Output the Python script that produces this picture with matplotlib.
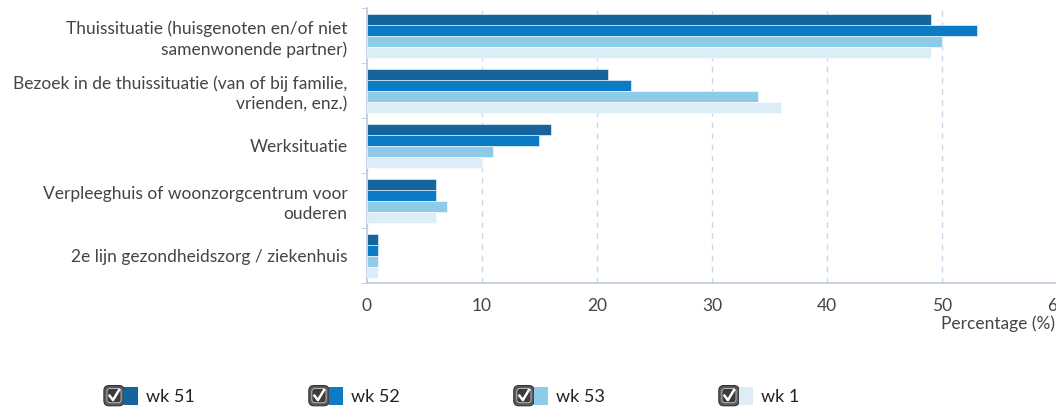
import numpy as np
import matplotlib
matplotlib.use('Agg')
import matplotlib.pyplot as plt
from matplotlib.patches import Rectangle, FancyBboxPatch
from matplotlib.lines import Line2D
from matplotlib.legend_handler import HandlerBase

plt.rcParams['font.family'] = ['Lato', 'DejaVu Sans']

# Gegevens
categories = [
    'Thuissituatie (huisgenoten en/of niet\nsamenwonende partner)',
    'Bezoek in de thuissituatie (van of bij familie,\nvrienden, enz.)',
    'Werksituatie',
    'Verpleeghuis of woonzorgcentrum voor\nouderen',
    '2e lijn gezondheidszorg / ziekenhuis',
]
weeks = ['wk 51', 'wk 52', 'wk 53', 'wk 1']
wk51 = [49, 21, 16, 6, 1]
wk52 = [53, 23, 15, 6, 1]
wk53 = [50, 34, 11, 7, 1]
wk1 = [49, 36, 10, 6, 1]
series = [wk51, wk52, wk53, wk1]
colors = ['#15649b', '#0b7bc6', '#8ecbe8', '#dcedf8']

text_color = '#444444'
axis_color = '#bccbdd'


# Legenda-item met vinkje
class CheckHandler(HandlerBase):
    def create_artists(self, legend, orig_handle, xdescent, ydescent,
                       width, height, fontsize, trans):
        s = height * 1.6
        y0 = -ydescent + height / 2 - s / 2
        x0 = -xdescent
        box = FancyBboxPatch((x0, y0), s, s,
                             boxstyle='round,pad=0,rounding_size=%f' % (s * 0.25),
                             facecolor='#5a5a5a', edgecolor='#333333', lw=0.8,
                             transform=trans)
        inner = FancyBboxPatch((x0 + s * 0.15, y0 + s * 0.15), s * 0.7, s * 0.7,
                               boxstyle='round,pad=0,rounding_size=%f' % (s * 0.15),
                               facecolor='#3c3c3c', edgecolor='#cccccc', lw=0.6,
                               transform=trans)
        check = Line2D([x0 + s * 0.28, x0 + s * 0.45, x0 + s * 0.75],
                       [y0 + s * 0.5, y0 + s * 0.28, y0 + s * 0.78],
                       color='white', lw=1.8, transform=trans)
        sw = Rectangle((x0 + s, y0 + s * 0.05), s * 0.7, s * 0.9,
                       facecolor=orig_handle.get_facecolor(), edgecolor='none',
                       transform=trans)
        return [box, inner, check, sw]


fig = plt.figure(figsize=(10.56, 4.08), dpi=100)
ax = fig.add_axes([0.3475, 0.306, 0.6535, 0.674])

y = np.arange(len(categories))
h = 0.2
for i, (vals, c) in enumerate(zip(series, colors)):
    ax.barh(y - 0.3 + i * h, vals, height=h, color=c, edgecolor='white',
            linewidth=0.4, label=weeks[i], zorder=3)

ax.set_xlim(0, 60)
ax.set_ylim(len(categories) - 0.5, -0.5)
ax.set_xticks(np.arange(0, 61, 10))
ax.set_yticks(y)
ax.set_yticklabels(categories, fontsize=12.5, color=text_color, ha='right',
                   linespacing=1.3)
ax.set_yticks(np.arange(-0.5, len(categories)), minor=True)
ax.tick_params(axis='y', which='major', length=0, pad=14)
ax.tick_params(axis='y', which='minor', length=4, color=axis_color)
ax.tick_params(axis='x', length=0, labelsize=12.5, labelcolor=text_color, pad=11)

ax.grid(axis='x', color='#c9d7e8', linestyle=(0, (4, 4)), linewidth=1.0, zorder=0)
for s in ['top', 'right']:
    ax.spines[s].set_visible(False)
ax.spines['left'].set_color(axis_color)
ax.spines['bottom'].set_color(axis_color)
ax.spines['left'].set_linewidth(1.2)
ax.spines['bottom'].set_linewidth(1.2)

fig.text(0.999, 0.207, 'Percentage (%)', ha='right', va='center',
         fontsize=12.5, color=text_color)

handles = [Rectangle((0, 0), 1, 1, facecolor=c) for c in colors]
leg = fig.legend(handles, weeks, loc='center left', bbox_to_anchor=(0.083, 0.027),
                 ncol=4, frameon=False, handler_map={Rectangle: CheckHandler()},
                 fontsize=13, handlelength=1.9, handletextpad=0.45,
                 columnspacing=6.3, labelcolor='#222222')

fig.savefig('out.png', dpi=100)
